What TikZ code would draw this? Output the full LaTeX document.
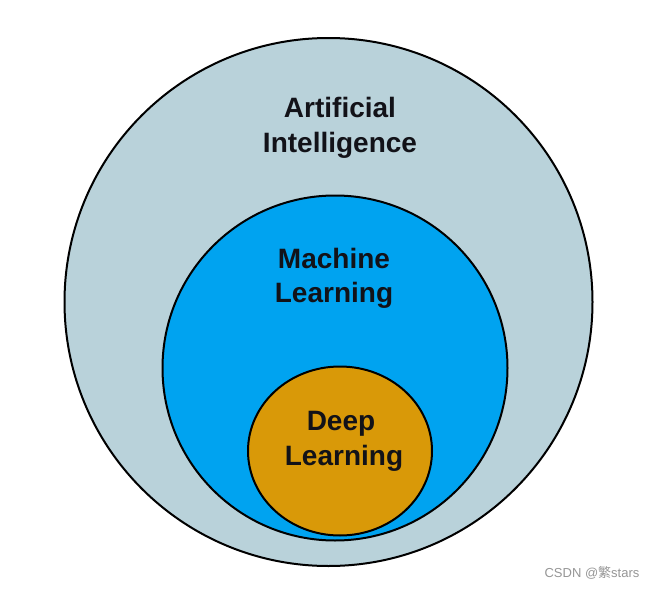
\documentclass[tikz,border=0pt]{standalone}
\usepackage{fontspec}
\setmainfont{Liberation Sans}
\newfontfamily\cjkfont{Noto Sans CJK SC}
\definecolor{aicol}{RGB}{185,210,218}
\definecolor{mlcol}{RGB}{0,163,240}
\definecolor{dlcol}{RGB}{217,153,8}
\definecolor{txtcol}{RGB}{18,18,24}
\definecolor{wmcol}{RGB}{150,150,150}
\begin{document}
\begin{tikzpicture}[x=1pt,y=-1pt,
  ring/.style={draw=black,line width=2pt},
  lbl/.style={anchor=base,inner sep=0pt,text=txtcol,font=\fontsize{28}{33}\selectfont\bfseries}]
\useasboundingbox (0,0) rectangle (654,589);
\fill[white] (0,0) rectangle (654,589);
\draw[ring,fill=aicol] (328.5,302) circle [radius=264];
\draw[ring,fill=mlcol] (335,368) circle [radius=172.5];
\draw[ring,fill=dlcol] (340,451) ellipse [x radius=92,y radius=84.5];
\node[lbl] (ai1) at (340,117) {Artificial};
\node[lbl] (ai2) at (340,152) {Intelligence};
\node[lbl] (ml1) at (334,268) {Machine};
\node[lbl] (ml2) at (334,302) {Learning};
\node[lbl] (dl1) at (341,430) {Deep};
\node[lbl] (dl2) at (344,465) {Learning};
\node[anchor=base,inner sep=0pt,text=wmcol,font=\fontsize{13}{15}\selectfont] (wm) at (592,577) {CSDN @{\cjkfont 繁}stars};
\end{tikzpicture}
\end{document}
